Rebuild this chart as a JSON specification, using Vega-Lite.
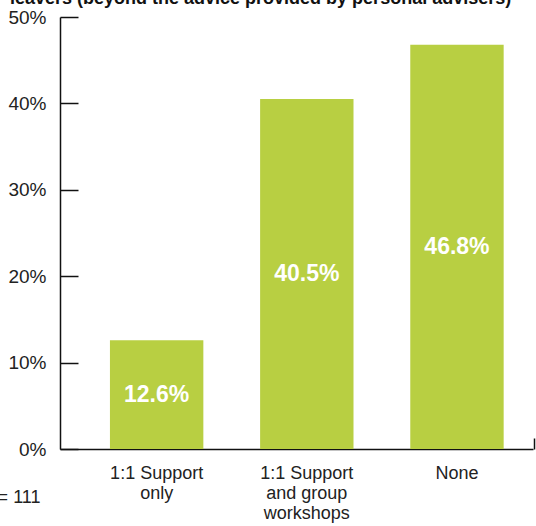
{
  "$schema": "https://vega.github.io/schema/vega-lite/v6.json",
  "autosize": "none",
  "width": 473,
  "height": 432,
  "padding": {"left": 60, "top": 17, "right": 3, "bottom": 77},
  "background": "white",
  "title": {
    "text": "leavers (beyond the advice provided by personal advisers)",
    "anchor": "start",
    "frame": "group",
    "dx": -50,
    "dy": 14,
    "offset": 0,
    "baseline": "alphabetic",
    "font": "Liberation Sans",
    "fontSize": 18,
    "fontWeight": "bold",
    "color": "#111111"
  },
  "data": {
    "values": [
      {"category": "1:1 Support only", "value": 0.126},
      {"category": "1:1 Support and group workshops", "value": 0.405},
      {"category": "None", "value": 0.468}
    ]
  },
  "config": {
    "view": {"stroke": null},
    "axis": {"grid": false, "domainColor": "#111111", "domainWidth": 1.5, "tickColor": "#111111", "tickWidth": 1.5, "labelFont": "Liberation Sans", "labelFontSize": 18, "labelColor": "#222222"}
  },
  "resolve": {"axis": {"x": "independent"}},
  "layer": [
    {
      "mark": {"type": "bar", "color": "#b8cf42"},
      "encoding": {
        "x": {
          "field": "category",
          "type": "nominal",
          "sort": null,
          "scale": {"paddingInner": 0.378, "paddingOuter": 0.264, "align": 0.63},
          "axis": {
            "orient": "bottom",
            "labelAngle": 0,
            "ticks": false,
            "labelPadding": 15,
            "labelLineHeight": 20,
            "labelExpr": "datum.value == '1:1 Support only' ? ['1:1 Support', 'only'] : datum.value == '1:1 Support and group workshops' ? ['1:1 Support', 'and group', 'workshops'] : datum.value",
            "title": "n = 111",
            "titleFont": "Liberation Sans",
            "titleFontSize": 18,
            "titleFontWeight": "normal",
            "titleColor": "#222222",
            "titleAlign": "right",
            "titleBaseline": "alphabetic",
            "titleX": -20,
            "titleY": 53
          }
        },
        "y": {
          "field": "value",
          "type": "quantitative",
          "scale": {"domain": [0, 0.5], "nice": false},
          "axis": {
            "values": [0, 0.1, 0.2, 0.3, 0.4, 0.5],
            "format": ".0%",
            "labelFontSize": 19,
            "tickSize": -18,
            "labelPadding": 32,
            "title": null
          }
        }
      }
    },
    {
      "transform": [{"calculate": "datum.value / 2", "as": "mid"}],
      "mark": {"type": "text", "color": "white", "font": "Liberation Sans", "fontWeight": "bold", "fontSize": 23, "baseline": "middle", "align": "center"},
      "encoding": {
        "x": {
          "field": "category",
          "type": "nominal",
          "sort": null,
          "axis": {
            "orient": "bottom",
            "values": ["None"],
            "bandPosition": 1,
            "tickOffset": 30,
            "tickSize": -11,
            "labels": false,
            "domain": false,
            "ticks": true,
            "title": null
          }
        },
        "y": {"field": "mid", "type": "quantitative"},
        "text": {"field": "value", "type": "quantitative", "format": ".1%"}
      }
    }
  ]
}
